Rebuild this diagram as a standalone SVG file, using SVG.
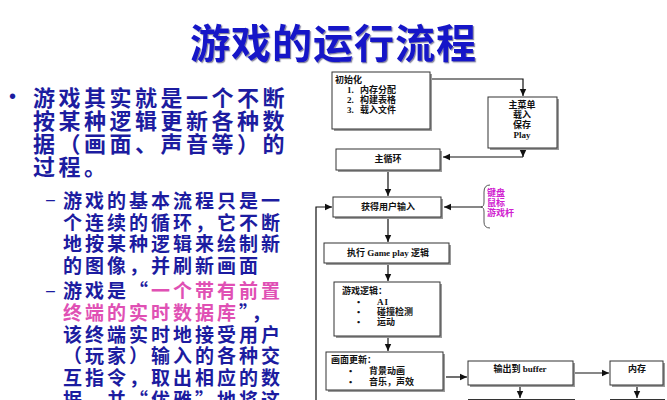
<svg xmlns="http://www.w3.org/2000/svg" width="667" height="400" viewBox="0 0 667 400">
<style>
.title{font-family:"Noto Sans CJK SC","Liberation Sans",sans-serif;font-size:40px;fill:#1414c8;font-weight:bold;letter-spacing:1px}
.main{font-family:"Noto Sans CJK SC","Liberation Sans",sans-serif;font-size:22px;fill:#1c1ca0;font-weight:bold;letter-spacing:3.5px}
.sub{font-family:"Noto Sans CJK SC","Liberation Sans",sans-serif;font-size:19px;fill:#1c1ca0;font-weight:bold;letter-spacing:3px}
.pink{fill:#e050b4}
.box{fill:#fff;stroke:#333;stroke-width:1}
.shadow{fill:#9a9a9a}
.ft{font-family:"Liberation Serif","Noto Sans CJK SC",serif;font-size:9px;fill:#111;font-weight:bold}
.mid{text-anchor:middle}
.mag{font-family:"Noto Sans CJK SC","Liberation Sans",sans-serif;font-size:9px;fill:#d020d0;font-weight:bold}
.ln{fill:none;stroke:#111;stroke-width:1.2}
</style>
<defs>
<marker id="ah" markerUnits="userSpaceOnUse" markerWidth="8" markerHeight="8" refX="7" refY="4" orient="auto">
<path d="M0,0.8 L7,4 L0,7.2 z" fill="#111"/>
</marker>
<filter id="ds" x="-5%" y="-5%" width="110%" height="120%">
<feDropShadow dx="1.2" dy="1.2" stdDeviation="0.4" flood-color="#303060" flood-opacity="0.6"/>
</filter>
</defs>
<rect width="667" height="400" fill="#fff"/>

<text class="title" x="190" y="58" filter="url(#ds)">游戏的运行流程</text>

<g id="left-text">
<text x="9" y="103" font-family="Liberation Sans,sans-serif" font-size="20" fill="#1c1ca0">•</text>
<text class="main" x="33" y="106">游戏其实就是一个不断</text>
<text class="main" x="33" y="129">按某种逻辑更新各种数</text>
<text class="main" x="33" y="152">据（画面、声音等）的</text>
<text class="main" x="33" y="175">过程。</text>
<text x="46" y="205" font-family="Liberation Sans,sans-serif" font-size="16" fill="#1c1ca0">–</text>
<text class="sub" x="63" y="208">游戏的基本流程只是一</text>
<text class="sub" x="63" y="229.5">个连续的循环，它不断</text>
<text class="sub" x="63" y="251">地按某种逻辑来绘制新</text>
<text class="sub" x="63" y="272.5">的图像，并刷新画面</text>
<text x="46" y="296" font-family="Liberation Sans,sans-serif" font-size="16" fill="#1c1ca0">–</text>
<text class="sub" x="63" y="298">游戏是“<tspan class="pink">一个带有前置</tspan></text>
<text class="sub" x="63" y="320"><tspan class="pink">终端的实时数据库</tspan>”，</text>
<text class="sub" x="63" y="342">该终端实时地接受用户</text>
<text class="sub" x="63" y="363">（玩家）输入的各种交</text>
<text class="sub" x="63" y="385">互指令，取出相应的数</text>
<text class="sub" x="63" y="407">据，并“优雅”地将这</text>
</g>

<g id="connectors">
<polyline class="ln" points="430,79 523,79 523,96" marker-end="url(#ah)"/>
<line class="ln" x1="523" y1="148" x2="523" y2="157" marker-end="url(#ah)"/>
<line class="ln" x1="523" y1="157" x2="443" y2="157" marker-end="url(#ah)"/>
<line class="ln" x1="388" y1="170" x2="388" y2="196" marker-end="url(#ah)"/>
<line class="ln" x1="482" y1="207" x2="444" y2="207" marker-end="url(#ah)"/>
<polyline class="ln" points="316,400 316,207 332,207" marker-end="url(#ah)"/>
<line class="ln" x1="388" y1="217" x2="388" y2="242" marker-end="url(#ah)"/>
<line class="ln" x1="388" y1="263" x2="388" y2="281" marker-end="url(#ah)"/>
<line class="ln" x1="388" y1="336" x2="388" y2="351" marker-end="url(#ah)"/>
<line class="ln" x1="446" y1="377" x2="467" y2="377" marker-end="url(#ah)"/>
<line class="ln" x1="575" y1="373" x2="609" y2="373" marker-end="url(#ah)"/>
<line class="ln" x1="520" y1="387" x2="520" y2="398" marker-end="url(#ah)"/>
<line class="ln" x1="637" y1="387" x2="637" y2="398" marker-end="url(#ah)"/>
<path d="M490,185 Q484,185 484,192 L484,202 Q484,207 481,207 Q484,207 484,212 L484,222 Q484,228 490,228" fill="none" stroke="#555" stroke-width="1"/>
</g>

<g id="init">
<rect class="shadow" x="334" y="74" width="98" height="57"/>
<rect class="box" x="332" y="72" width="98" height="57"/>
<text class="ft" x="335" y="83">初始化</text>
<text class="ft" x="347" y="93">1.<tspan x="360">内存分配</tspan></text>
<text class="ft" x="347" y="103">2.<tspan x="360">构建表格</tspan></text>
<text class="ft" x="347" y="113">3.<tspan x="360">载入文件</tspan></text>
</g>

<g id="menu">
<rect class="shadow" x="490" y="99" width="69" height="51"/>
<rect class="box" x="488" y="97" width="69" height="51"/>
<text class="ft mid" x="522" y="108">主菜单</text>
<text class="ft mid" x="522" y="118">载入</text>
<text class="ft mid" x="522" y="128">保存</text>
<text class="ft mid" x="522" y="138">Play</text>
</g>

<g id="mainloop">
<rect class="shadow" x="338" y="151" width="104" height="21"/>
<rect class="box" x="336" y="149" width="104" height="21"/>
<text class="ft mid" x="388" y="162">主循环</text>
</g>

<g id="input">
<rect class="shadow" x="335" y="199" width="108" height="20"/>
<rect class="box" x="333" y="197" width="108" height="20"/>
<text class="ft mid" x="388" y="210">获得用户输入</text>
</g>

<g id="devices">
<text class="mag" x="487" y="196">键盘</text>
<text class="mag" x="487" y="206">鼠标</text>
<text class="mag" x="487" y="216">游戏杆</text>
</g>

<g id="gameplay">
<rect class="shadow" x="326" y="245" width="125" height="20"/>
<rect class="box" x="324" y="243" width="125" height="20"/>
<text class="ft mid" x="388" y="256">执行 Game play 逻辑</text>
</g>

<g id="logic">
<rect class="shadow" x="336" y="284" width="106" height="54"/>
<rect class="box" x="334" y="282" width="106" height="54"/>
<text class="ft" x="342" y="294">游戏逻辑：</text>
<text class="ft" x="357" y="305">•</text>
<text class="ft" x="357" y="315">•</text>
<text class="ft" x="357" y="325">•</text>
<text class="ft" x="377" y="305" letter-spacing="1">AI</text>
<text class="ft" x="377" y="315">碰撞检测</text>
<text class="ft" x="377" y="325">运动</text>
</g>

<g id="render">
<rect class="shadow" x="328" y="354" width="117" height="38"/>
<rect class="box" x="326" y="352" width="117" height="38"/>
<text class="ft" x="331" y="363">画面更新：</text>
<text class="ft" x="349" y="374">•</text>
<text class="ft" x="349" y="385">•</text>
<text class="ft" x="369" y="374">背景动画</text>
<text class="ft" x="369" y="385">音乐，声效</text>
</g>

<g id="buffer">
<rect class="shadow" x="470" y="363" width="105" height="24"/>
<rect class="box" x="468" y="361" width="105" height="24"/>
<text class="ft mid" x="520" y="372">输出到 buffer</text>
</g>

<g id="memory">
<rect class="shadow" x="612" y="363" width="53" height="24"/>
<rect class="box" x="610" y="361" width="53" height="24"/>
<text class="ft mid" x="637" y="372">内存</text>
</g>

<g id="next-boxes">
<line x1="468" y1="399.5" x2="575" y2="399.5" stroke="#333" stroke-width="1"/>
<line x1="610" y1="399.5" x2="665" y2="399.5" stroke="#333" stroke-width="1"/>
</g>
</svg>
